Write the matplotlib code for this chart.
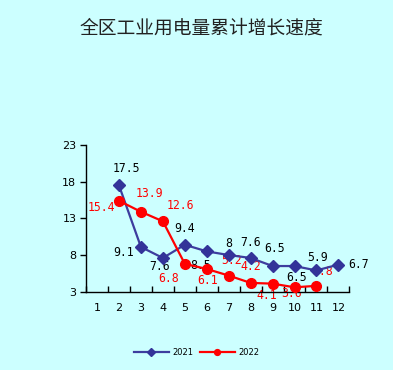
import matplotlib
matplotlib.use("Agg")
import matplotlib.pyplot as plt

months = list(range(1, 13))
x2021 = [2, 3, 4, 5, 6, 7, 8, 9, 10, 11, 12]
v2021 = [17.5, 9.1, 7.6, 9.4, 8.5, 8, 7.6, 6.5, 6.5, 5.9, 6.7]
x2022 = [2, 3, 4, 5, 6, 7, 8, 9, 10, 11]
v2022 = [15.4, 13.9, 12.6, 6.8, 6.1, 5.2, 4.2, 4.1, 3.6, 3.8]
yticks = [3, 8, 13, 18, 23]
title = "全区工业用电量累计增长速度"

# label offsets in pixels (dx, dy upward positive)
off2021 = [(7, 17), (-17, -6), (-3, -9), (0, 16), (-6, -14), (0, 12), (0, 15),
           (2, 18), (2, -11), (1, 13), (20, 0)]
off2022 = [(-18, -7), (8, 18), (18, 16), (-16, -15), (1, -12), (3, 15), (0, 16),
           (-6, -12), (-3, -6), (6, 14)]

bg = "#CCFFFF"
blue = "#333399"
blue_line = "#3D3D9E"
red = "#FF0000"

fig = plt.figure(figsize=(3.93, 3.70), dpi=100, facecolor=bg)
ax = fig.add_axes([0.219, 0.2116, 0.670, 0.3964], facecolor=bg)

ax.plot(x2021, v2021, color=blue_line, lw=1.6, marker="D", ms=6.3, mfc=blue, mec=blue, label="2021", zorder=4)
ax.plot(x2022, v2022, color=red, lw=1.6, marker="o", ms=7, mfc=red, mec=red, label="2022", zorder=4)

for x, v, (dx, dy) in zip(x2021, v2021, off2021):
    ax.annotate(f"{v:g}", (x, v), xytext=(dx, dy), textcoords="offset pixels",
                ha="center", va="center", fontsize=8.3, family="DejaVu Sans Mono", color="black", zorder=2)
for x, v, (dx, dy) in zip(x2022, v2022, off2022):
    ax.annotate(f"{v:g}", (x, v), xytext=(dx, dy), textcoords="offset pixels",
                ha="center", va="center", fontsize=8.3, family="DejaVu Sans Mono", color=red, zorder=2.5)

ax.set_xlim(0.5, 12.5)
ax.set_ylim(3, 23)
ax.set_yticks(yticks)
ax.set_yticklabels([str(t) for t in yticks], fontsize=8)
ax.set_xticks(months)
ax.set_xticklabels([str(m) for m in months], fontsize=8)
ax.set_xticks([m + 0.5 for m in range(0, 13)], minor=True)
ax.tick_params(axis="x", which="major", length=0, pad=8)
ax.tick_params(axis="x", which="minor", direction="in", length=4, width=1)
ax.tick_params(axis="y", direction="out", length=4, width=1, pad=3)
for s in ["top", "right"]:
    ax.spines[s].set_visible(False)
for s in ["left", "bottom"]:
    ax.spines[s].set_linewidth(1)

fig.text(0.513, 0.925, title, ha="center", va="center", fontsize=13.5,
         family=["Noto Sans CJK SC", "DejaVu Sans"], color="#222222", fontweight="light")

fig.legend(loc="center", bbox_to_anchor=(0.50, 0.048), ncol=2, frameon=False,
           fontsize=6, handlelength=4.2, handletextpad=0.4, columnspacing=0.8,
           markerscale=0.6)

fig.savefig("out.png", dpi=100, facecolor=bg)
